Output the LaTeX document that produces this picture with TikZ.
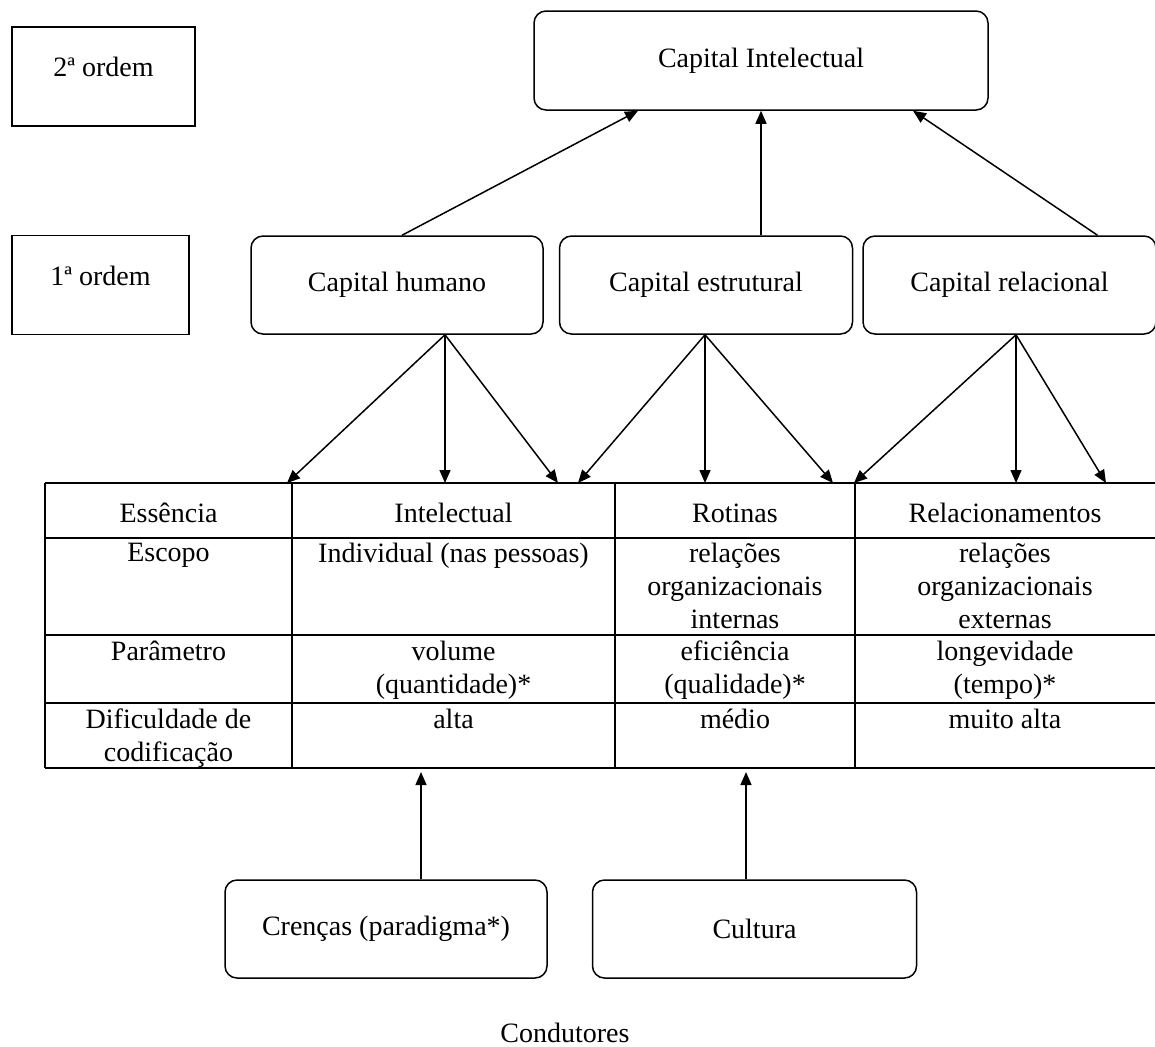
\documentclass[tikz,border=0pt]{standalone}
\usepackage{fontspec}
\setmainfont{Liberation Serif}
\usetikzlibrary{arrows.meta,positioning}

\begin{document}
\begin{tikzpicture}[
  x=0.5pt, y=-0.5pt,
  font=\fontsize{14pt}{16.5pt}\selectfont,
  line width=0.75pt,
  caixa/.style={draw,rounded corners=6pt,align=center,minimum height=49pt},
  ordem/.style={draw,minimum height=49.5pt,text height=8pt,text depth=8pt},
  celula/.style={anchor=north,align=center,inner sep=0pt},
  >={Triangle[length=6.5pt,width=5.5pt]}
]
\useasboundingbox (0,0) rectangle (1155,1046);

\node[ordem,minimum width=91.5pt] (ord2) at (103.5,76.5) {2ª ordem};
\node[ordem,minimum width=88.5pt] (ord1) at (100.5,285) {1ª ordem};
\node[caixa,minimum width=227pt,minimum height=49.5pt] (ci) at (761,60.5) {Capital Intelectual};
\node[caixa,minimum width=146pt] (hum) at (397,285) {Capital humano};
\node[caixa,minimum width=146.5pt,right=7.5pt of hum] (est) {Capital estrutural};
\node[caixa,minimum width=146.5pt,right=4.5pt of est] (rel) {Capital relacional};

% tabela
\draw (45,483) -- (1155,483) (45,538) -- (1155,538) (45,635) -- (1155,635)
      (45,703) -- (1155,703) (45,768) -- (1155,768);
\draw (45,483) -- (45,768) (292,483) -- (292,768) (615,483) -- (615,768)
      (855,483) -- (855,768);

\node[celula,anchor=base] (ess) at (168.5,522) {Essência};
\node[celula,anchor=base] (intel) at (453.5,522) {Intelectual};
\node[celula,anchor=base] (rot) at (735,522) {Rotinas};
\node[celula,anchor=base] (relac) at (1005,522) {Relacionamentos};
\node[celula] (esc) at (168.5,542) {Escopo};
\node[celula] (indiv) at (453.5,542) {Individual (nas pessoas)};
\node[celula] (inter) at (735,542) {relações\\organizacionais\\internas};
\node[celula] (exter) at (1005,542) {relações\\organizacionais\\externas};
\node[celula] (par) at (168.5,640) {Parâmetro};
\node[celula] (vol) at (453.5,640) {volume\\(quantidade)*};
\node[celula] (efic) at (735,640) {eficiência\\(qualidade)*};
\node[celula] (longv) at (1005,640) {longevidade\\(tempo)*};
\node[celula] (dific) at (168.5,708) {Dificuldade de\\codificação};
\node[celula] (alta) at (453.5,708) {alta};
\node[celula] (medio) at (735,708) {médio};
\node[celula] (malta) at (1005,708) {muito alta};

\node[caixa,minimum width=161pt] (cren) at (386,929) {Crenças (paradigma*)};
\node[caixa,minimum width=162pt,right=22pt of cren] (cult) {Cultura};
\node (cond) at (565,1033) {Condutores};

% pontas das setas
\coordinate (h1) at (287,483);
\coordinate (h2) at (445,483);
\coordinate (h3) at (558,483);
\coordinate (e1) at (578,483);
\coordinate (e2) at (705,483);
\coordinate (e3) at (833,483);
\coordinate (r1) at (854,483);
\coordinate (r2) at (1016,483);
\coordinate (r3) at (1106,483);
\coordinate (b1) at (421,772);
\coordinate (b2) at (746,772);

\draw[->] ([xshift=2.5pt]hum.north) -- ([xshift=-61.5pt]ci.south);
\draw[->] (ci.south |- est.north) -- (ci.south);
\draw[->] ([xshift=44pt]rel.north) -- ([xshift=76pt]ci.south);

\draw[->] (h2 |- hum.south) -- (h1);
\draw[->] (h2 |- hum.south) -- (h2);
\draw[->] (h2 |- hum.south) -- (h3);
\draw[->] (e2 |- est.south) -- (e1);
\draw[->] (e2 |- est.south) -- (e2);
\draw[->] (e2 |- est.south) -- (e3);
\draw[->] (r2 |- rel.south) -- (r1);
\draw[->] (r2 |- rel.south) -- (r2);
\draw[->] (r2 |- rel.south) -- (r3);

\draw[->] (b1 |- cren.north) -- (b1);
\draw[->] (b2 |- cult.north) -- (b2);
\end{tikzpicture}
\end{document}
